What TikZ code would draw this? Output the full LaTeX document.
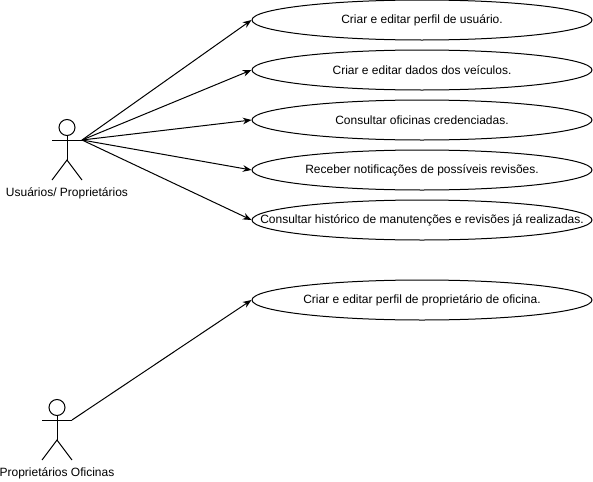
\documentclass[tikz,border=0pt]{standalone}
\usepackage{fontspec}
\setmainfont{Liberation Sans}
\usetikzlibrary{shapes.geometric, arrows.meta}

\tikzset{
	usecase/.style = {draw, ellipse, minimum width=255pt, minimum height=30pt, inner sep=0pt, font=\fontsize{9}{11}\selectfont},
	actorlabel/.style = {font=\fontsize{9}{11}\selectfont},
	assoc/.style = {-{Stealth[length=6.5pt, width=5pt]}}
}

\begin{document}
\begin{tikzpicture}[x=.75pt, y=-.75pt, line width=.75pt]

	\useasboundingbox (0,0) rectangle (593,482);

% use cases
	\node[usecase] (perfil)    at (422,20)  {Criar e editar perfil de usuário.};
	\node[usecase] (veiculos)  at (422,70)  {Criar e editar dados dos veículos.};
	\node[usecase] (oficinas)  at (422,120) {Consultar oficinas credenciadas.};
	\node[usecase] (revisoes)  at (422,170) {Receber notificações de possíveis revisões.};
	\node[usecase] (historico) at (422,220) {\makebox[0pt]{Consultar histórico de manutenções e revisões já realizadas.}};
	\node[usecase] (perfilOf)  at (422,300) {Criar e editar perfil de proprietário de oficina.};

% actor: usuarios
	\node[draw, circle, minimum size=12pt, inner sep=0pt] (headU) at (67,127.5) {};
	\coordinate (handU) at (82,140);
	\coordinate (hipU) at (67,160);
	\draw (headU) -- (hipU);
	\draw (52,140) -- (handU);
	\draw (52,180) -- (hipU) -- (82,180);
	\node[actorlabel] (labelU) at (67,193.5) {Usuários/ Proprietários};

% actor: oficinas
	\node[draw, circle, minimum size=12pt, inner sep=0pt] (headO) at (57,407.5) {};
	\coordinate (handO) at (72,420);
	\coordinate (hipO) at (57,440);
	\draw (headO) -- (hipO);
	\draw (42,420) -- (handO);
	\draw (42,460) -- (hipO) -- (72,460);
	\node[actorlabel] (labelO) at (57,473.5) {Proprietários Oficinas};

% associations
	\foreach \target in {perfil, veiculos, oficinas, revisoes, historico}
		\draw[assoc] (handU) -- (\target.west);
	\draw[assoc] (handO) -- (perfilOf.west);

\end{tikzpicture}
\end{document}
